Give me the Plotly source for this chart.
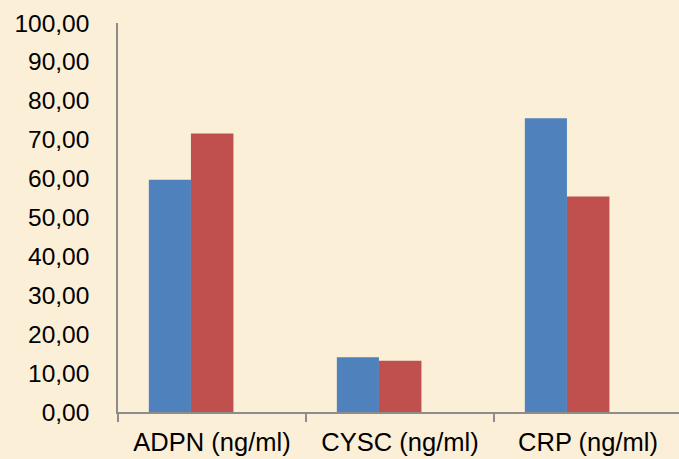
import plotly.graph_objects as go

categories = ["ADPN (ng/ml)", "CYSC (ng/ml)", "CRP (ng/ml)"]
series_blue = [59.7, 14.1, 75.5]
series_red = [71.6, 13.2, 55.4]
y_ticks = [0, 10, 20, 30, 40, 50, 60, 70, 80, 90, 100]

BLUE = "#4F81BD"
RED = "#C0504D"
BG = "#FCEFD8"
AXIS = "#8C8C8C"
FONT = "Liberation Sans, Arial, sans-serif"

fig = go.Figure()
fig.add_trace(go.Bar(x=categories, y=series_blue, marker=dict(color=BLUE, line=dict(width=0)),
                     width=0.224, offset=-0.336, showlegend=False))
fig.add_trace(go.Bar(x=categories, y=series_red, marker=dict(color=RED, line=dict(width=0)),
                     width=0.226, offset=-0.112, showlegend=False))

fig.update_layout(
    width=679, height=459,
    margin=dict(l=118, r=0, t=23, b=47),
    paper_bgcolor=BG, plot_bgcolor=BG,
    barmode="overlay",
    separators=", ",
    font=dict(family=FONT, size=25, color="#000000"),
    xaxis=dict(
        type="category", range=[-0.5, 2.484],
        showline=True, linecolor=AXIS, linewidth=1.5,
        ticks="outside", tickson="boundaries", ticklen=8, tickcolor=AXIS, tickwidth=1.5,
        ticklabelstandoff=7,
        showgrid=False, zeroline=False,
        tickfont=dict(family=FONT, size=25.5, color="#000000"),
    ),
    yaxis=dict(
        range=[0, 100], tickvals=y_ticks, tickformat=".2f",
        showline=True, linecolor=AXIS, linewidth=1.5,
        ticks="", ticklabelstandoff=22,
        showgrid=False, zeroline=False,
        tickfont=dict(family=FONT, size=24.5, color="#000000"),
    ),
)

fig.write_html("out.html")
